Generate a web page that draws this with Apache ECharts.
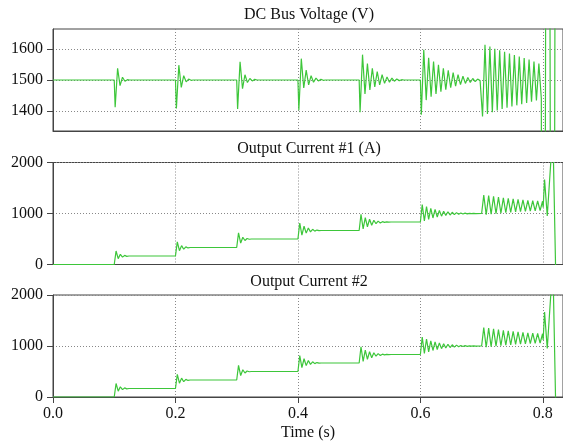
<!DOCTYPE html>
<html><head><meta charset="utf-8">
<script src="https://cdn.jsdelivr.net/npm/echarts@6/dist/echarts.min.js"></script>
<style>html,body{margin:0;padding:0;background:#fff}#c{width:563px;height:445px}</style>
</head><body><div id="c"></div>
<script>
const panelTitles = ['DC Bus Voltage (V)', 'Output Current #1 (A)', 'Output Current #2'];
const xAxisName = 'Time (s)';
const timeTicks = [0, 0.2, 0.4, 0.6, 0.8];
const voltTicks = [1400, 1500, 1600];
const currentTicks = [0, 1000, 2000];

// DC bus voltage [time s, volts]
const busVoltage = [
  [0,1500],[0.1,1500],[0.1015,1412],[0.1055,1538],[0.1095,1482],[0.1135,1509],[0.1175,1496],[0.1215,1501],[0.125,1500],
  [0.2,1500],[0.2015,1408],[0.2055,1548],[0.2095,1476],[0.2135,1514],[0.2175,1494],[0.2215,1503],[0.2255,1499],[0.229,1500],
  [0.3,1500],[0.3015,1406],[0.3055,1559],[0.3095,1472],[0.3135,1517],[0.3175,1492],[0.3215,1505],[0.3255,1497],[0.3295,1502],[0.333,1500],
  [0.4,1500],[0.4015,1402],[0.4055,1569],[0.4095,1474],[0.4135,1532],[0.4175,1484],[0.4215,1514],[0.4255,1493],[0.4295,1506],[0.4335,1497],[0.4375,1502],[0.4415,1499],[0.445,1500],
  [0.5,1500],[0.5015,1396],[0.5055,1582],[0.5095,1455],[0.5135,1553],[0.5175,1468],[0.5215,1538],[0.5255,1478],[0.5295,1527],[0.5335,1484],[0.5375,1517],[0.5415,1489],[0.5455,1510],[0.5495,1493],[0.5535,1506],[0.5575,1496],[0.5615,1503],[0.5655,1498],[0.5695,1501],[0.573,1500],
  [0.6,1500],[0.6015,1388],[0.6055,1598],[0.6095,1435],[0.6135,1572],[0.6175,1446],[0.6215,1560],[0.6255,1455],[0.6295,1549],[0.6335,1462],[0.6375,1538],[0.6415,1469],[0.6455,1531],[0.6495,1475],[0.6535,1524],[0.6575,1480],[0.6615,1517],[0.6655,1485],[0.6695,1512],[0.6735,1489],[0.6775,1508],[0.6815,1492],[0.6855,1505],[0.6895,1495],[0.6935,1503],[0.6975,1498],[0.7,1500],
  [0.7015,1382],[0.7055,1614],[0.7095,1390],[0.7135,1608],[0.7175,1396],[0.7215,1601],[0.7255,1401],[0.7295,1596],[0.7335,1406],[0.7375,1591],[0.7415,1410],[0.7455,1586],[0.7495,1414],[0.7535,1581],[0.7575,1418],[0.7615,1576],[0.7655,1422],[0.7695,1571],[0.7735,1426],[0.7775,1566],[0.7815,1430],[0.7855,1560],[0.7895,1434],[0.7935,1553],[0.7975,1440],
  [0.8005,-2000],[0.8081,5000],[0.8157,-2000],[0.8233,5000]
];

// Output current #1 [time s, amps]
const outputCurrent1 = [
  [0,0],[0.1,0],[0.103,265],[0.1065,115],[0.11,200],[0.1135,145],[0.117,178],[0.1205,160],[0.124,167],
  [0.2,167],[0.203,445],[0.2065,270],[0.21,370],[0.2135,300],[0.217,345],[0.2205,325],[0.224,333],
  [0.3,333],[0.303,620],[0.3065,420],[0.31,535],[0.3135,470],[0.317,510],[0.3205,495],[0.324,500],
  [0.4,500],[0.403,810],[0.4065,575],[0.41,750],[0.4135,615],[0.417,715],[0.4205,640],[0.424,690],[0.4275,655],[0.431,675],[0.4345,663],[0.438,667],
  [0.5,667],[0.503,985],[0.5065,700],[0.51,920],[0.5135,740],[0.517,888],[0.5205,770],[0.524,868],[0.5275,800],[0.531,850],[0.5345,815],[0.538,840],[0.5415,826],[0.545,836],[0.5485,831],[0.552,833],
  [0.6,833],[0.603,1175],[0.6065,855],[0.61,1135],[0.6135,885],[0.617,1100],[0.6205,912],[0.624,1080],[0.6275,932],[0.631,1060],[0.6345,948],[0.638,1045],[0.6415,960],[0.645,1033],[0.6485,970],[0.652,1024],[0.6555,978],[0.659,1017],[0.6625,985],[0.666,1011],[0.6695,990],[0.673,1007],[0.6765,994],[0.68,1004],[0.6835,997],[0.687,1002],[0.6905,999],
  [0.7,1000],[0.7035,1360],[0.7075,975],[0.7115,1350],[0.7155,985],[0.7195,1335],[0.7235,995],[0.7275,1320],[0.7315,1005],[0.7355,1305],[0.7395,1015],[0.7435,1295],[0.7475,1020],[0.7515,1285],[0.7555,1030],[0.7595,1275],[0.7635,1035],[0.7675,1265],[0.7715,1040],[0.7755,1255],[0.7795,1045],[0.7835,1250],[0.7875,1050],[0.7915,1245],[0.7955,1055],[0.7995,1240],
  [0.8005,1120],[0.8028,1665],[0.8072,950],[0.814,2200],[0.8174,2000],[0.824,-2000]
];

// Output current #2 [time s, amps] (reads identical to #1 in the picture)
const outputCurrent2 = [
  [0,0],[0.1,0],[0.103,265],[0.1065,115],[0.11,200],[0.1135,145],[0.117,178],[0.1205,160],[0.124,167],
  [0.2,167],[0.203,445],[0.2065,270],[0.21,370],[0.2135,300],[0.217,345],[0.2205,325],[0.224,333],
  [0.3,333],[0.303,620],[0.3065,420],[0.31,535],[0.3135,470],[0.317,510],[0.3205,495],[0.324,500],
  [0.4,500],[0.403,810],[0.4065,575],[0.41,750],[0.4135,615],[0.417,715],[0.4205,640],[0.424,690],[0.4275,655],[0.431,675],[0.4345,663],[0.438,667],
  [0.5,667],[0.503,985],[0.5065,700],[0.51,920],[0.5135,740],[0.517,888],[0.5205,770],[0.524,868],[0.5275,800],[0.531,850],[0.5345,815],[0.538,840],[0.5415,826],[0.545,836],[0.5485,831],[0.552,833],
  [0.6,833],[0.603,1175],[0.6065,855],[0.61,1135],[0.6135,885],[0.617,1100],[0.6205,912],[0.624,1080],[0.6275,932],[0.631,1060],[0.6345,948],[0.638,1045],[0.6415,960],[0.645,1033],[0.6485,970],[0.652,1024],[0.6555,978],[0.659,1017],[0.6625,985],[0.666,1011],[0.6695,990],[0.673,1007],[0.6765,994],[0.68,1004],[0.6835,997],[0.687,1002],[0.6905,999],
  [0.7,1000],[0.7035,1360],[0.7075,975],[0.7115,1350],[0.7155,985],[0.7195,1335],[0.7235,995],[0.7275,1320],[0.7315,1005],[0.7355,1305],[0.7395,1015],[0.7435,1295],[0.7475,1020],[0.7515,1285],[0.7555,1030],[0.7595,1275],[0.7635,1035],[0.7675,1265],[0.7715,1040],[0.7755,1255],[0.7795,1045],[0.7835,1250],[0.7875,1050],[0.7915,1245],[0.7955,1055],[0.7995,1240],
  [0.8005,1120],[0.8028,1665],[0.8072,950],[0.814,2200],[0.8174,2000],[0.824,-2000]
];

const FONT = '"Liberation Serif", "DejaVu Serif", serif';
const TXT = '#111';
const LINE = '#3dc63a';
const FRAME = '#444';
const GRIDC = '#888';

const grids = [
  {left: 53, right: -4, top: 29, height: 102},
  {left: 53, right: -4, top: 162.5, height: 102},
  {left: 53, right: -4, top: 295, height: 102}
];
const titleTops = [7, 141, 274];
const yRanges = [[1335, 1665, voltTicks], [0, 2000, currentTicks], [0, 2000, currentTicks]];
const seriesData = [busVoltage, outputCurrent1, outputCurrent2];

const chart = echarts.init(document.getElementById('c'), null, {renderer: 'canvas'});
const option = {
  animation: false,
  backgroundColor: '#fff',
  title: panelTitles.map((t, i) => ({
    text: t, left: 309, top: titleTops[i], textAlign: 'center', padding: 0,
    textStyle: {fontFamily: FONT, fontSize: 16, fontWeight: 'normal', color: TXT}
  })),
  grid: grids.map(g => Object.assign({show: true, borderColor: FRAME, borderWidth: 1, backgroundColor: 'transparent'}, g)),
  xAxis: grids.map((g, i) => ({
    type: 'value', gridIndex: i, min: 0, max: 0.8329, interval: 0.2,
    name: i === 2 ? xAxisName : '', nameLocation: 'middle', nameGap: 28,
    nameTextStyle: {fontFamily: FONT, fontSize: 16, color: TXT},
    axisLine: {show: true, onZero: false, lineStyle: {color: FRAME, width: 1}},
    axisTick: {show: i === 2, length: 6, customValues: timeTicks, lineStyle: {color: FRAME}},
    axisLabel: {show: i === 2, customValues: timeTicks, margin: 9, fontFamily: FONT, fontSize: 16, color: TXT,
      formatter: v => v.toFixed(1)},
    splitLine: {show: true, lineStyle: {color: GRIDC, type: [1, 2], width: 1}}
  })),
  yAxis: yRanges.map((r, i) => ({
    type: 'value', gridIndex: i, min: r[0], max: r[1],
    interval: i === 0 ? undefined : 1000,
    axisLine: {show: true, lineStyle: {color: FRAME, width: 1}},
    axisTick: {show: true, length: 6, customValues: r[2], lineStyle: {color: FRAME}},
    axisLabel: {show: true, customValues: r[2], margin: 10, fontFamily: FONT, fontSize: 16, color: TXT,
      formatter: v => String(v)},
    splitLine: {show: true, lineStyle: {color: GRIDC, type: [1, 2], width: 1}}
  })),
  series: seriesData.map((d, i) => ({
    type: 'line', xAxisIndex: i, yAxisIndex: i, data: d,
    showSymbol: false, symbol: 'none', clip: true,
    lineStyle: {color: LINE, width: 1.2}
  }))
};
chart.setOption(option);
</script>
</body></html>
